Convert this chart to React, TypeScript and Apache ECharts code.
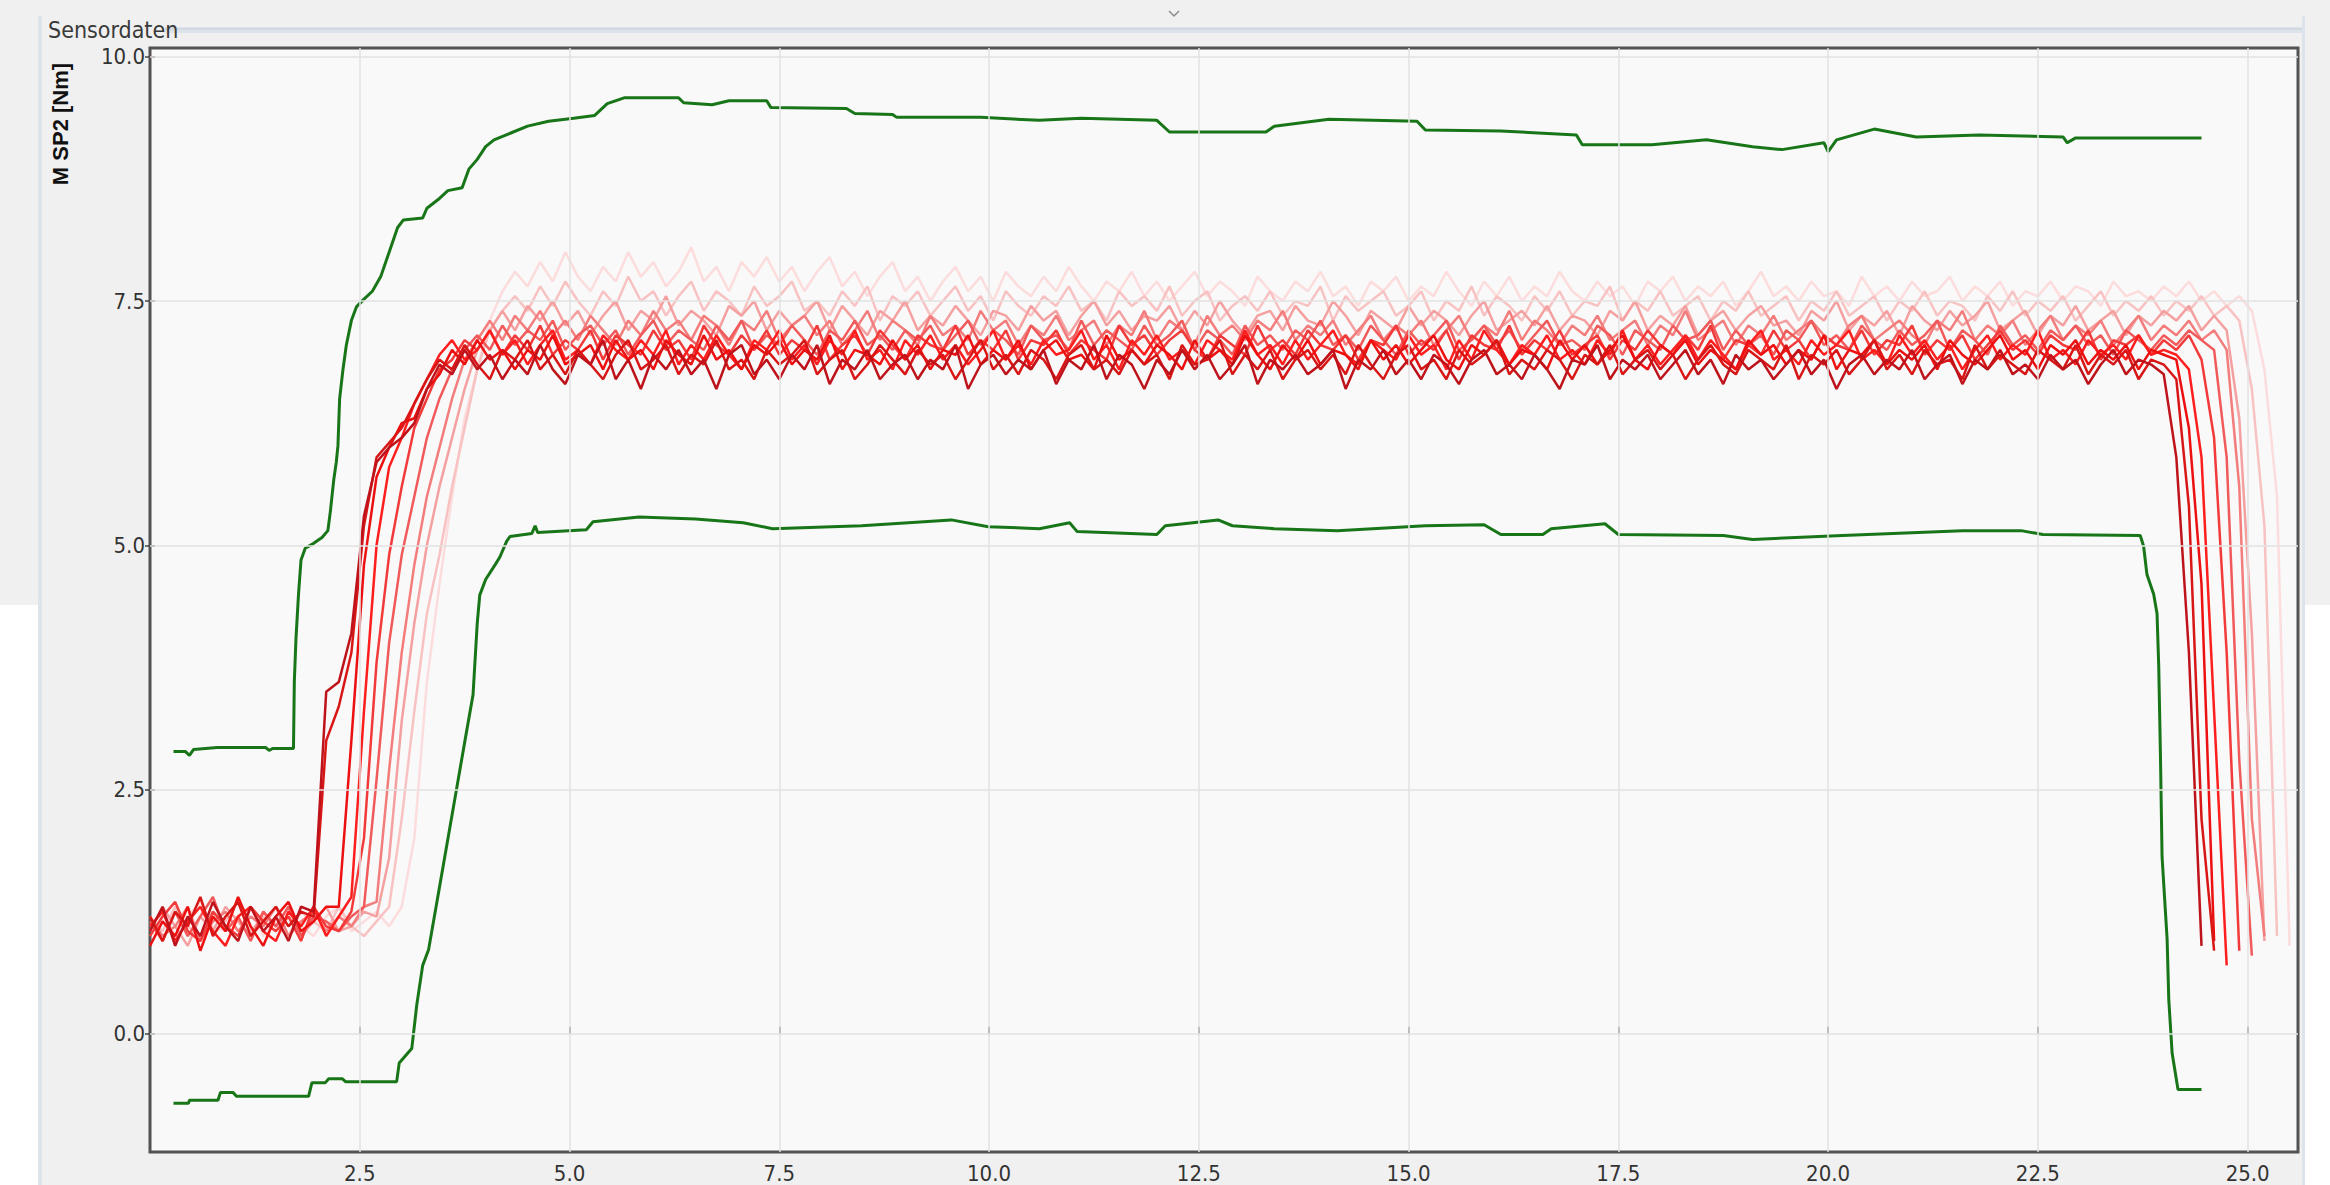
import React, { useEffect, useRef } from 'react';
import * as echarts from 'echarts';

// ---- sample times shared by the red runs (s) ----
const TIME = [
  0, 0.15, 0.3, 0.45, 0.6, 0.75, 0.9, 1.05, 1.2, 1.35,
  1.5, 1.65, 1.8, 1.95, 2.1, 2.25, 2.4, 2.55, 2.7, 2.85,
  3, 3.15, 3.3, 3.45, 3.6, 3.75, 3.9, 4.05, 4.2, 4.35,
  4.5, 4.65, 4.8, 4.95, 5.1, 5.25, 5.4, 5.55, 5.7, 5.85,
  6, 6.15, 6.3, 6.45, 6.6, 6.75, 6.9, 7.05, 7.2, 7.35,
  7.5, 7.65, 7.8, 7.95, 8.1, 8.25, 8.4, 8.55, 8.7, 8.85,
  9, 9.15, 9.3, 9.45, 9.6, 9.75, 9.9, 10.05, 10.2, 10.35,
  10.5, 10.65, 10.8, 10.95, 11.1, 11.25, 11.4, 11.55, 11.7, 11.85,
  12, 12.15, 12.3, 12.45, 12.6, 12.75, 12.9, 13.05, 13.2, 13.35,
  13.5, 13.65, 13.8, 13.95, 14.1, 14.25, 14.4, 14.55, 14.7, 14.85,
  15, 15.15, 15.3, 15.45, 15.6, 15.75, 15.9, 16.05, 16.2, 16.35,
  16.5, 16.65, 16.8, 16.95, 17.1, 17.25, 17.4, 17.55, 17.7, 17.85,
  18, 18.15, 18.3, 18.45, 18.6, 18.75, 18.9, 19.05, 19.2, 19.35,
  19.5, 19.65, 19.8, 19.95, 20.1, 20.25, 20.4, 20.55, 20.7, 20.85,
  21, 21.15, 21.3, 21.45, 21.6, 21.75, 21.9, 22.05, 22.2, 22.35,
  22.5, 22.65, 22.8, 22.95, 23.1, 23.25, 23.4, 23.55, 23.7, 23.85,
  24, 24.15, 24.3, 24.45, 24.6, 24.75, 24.9, 25.05, 25.2, 25.35,
  25.5,
];

// ---- red runs (M SP2 in Nm), darkest first ----
const RED_A = [
  1.05, 1.3, 0.9, 1.2, 1.0, 1.35, 1.1, 0.95, 1.3, 1.05,
  1.2, 0.95, 1.3, 1.25, 3.5, 3.6, 4.1, 5.3, 5.85, 6.0,
  6.1, 6.25, 6.6, 6.85, 6.75, 7.0, 6.8, 6.95, 6.7, 6.9,
  6.75, 7.05, 6.8, 6.65, 6.95, 6.85, 7.1, 6.7, 6.9, 6.6,
  6.95, 6.8, 7.0, 6.75, 6.9, 6.6, 6.95, 7.05, 6.75, 6.9,
  6.7, 6.95, 6.8, 7.05, 6.65, 6.9, 6.8, 7.0, 6.7, 6.85,
  6.95, 6.7, 6.9, 6.8, 7.05, 6.6, 6.85, 6.95, 6.75, 6.9,
  6.8, 7.0, 6.65, 6.9, 6.8, 7.05, 6.7, 6.95, 6.85, 6.6,
  6.9, 6.75, 7.0, 6.8, 6.95, 6.7, 6.85, 7.05, 6.65, 6.9,
  6.8, 6.95, 6.75, 6.85, 7.0, 6.6, 6.9, 6.8, 7.0, 6.75,
  6.9, 6.7, 6.95, 6.85, 6.65, 6.9, 7.0, 6.75, 6.85, 6.7,
  6.95, 6.8, 6.6, 6.9, 6.85, 7.05, 6.7, 6.9, 6.8, 6.95,
  6.7, 6.85, 7.0, 6.75, 6.9, 6.65, 6.95, 6.8, 6.9, 6.7,
  6.85, 7.0, 6.75, 6.9, 6.6, 6.85, 6.95, 6.75, 6.9, 6.8,
  7.0, 6.7, 6.85, 6.95, 6.65, 6.9, 6.8, 7.0, 6.75, 6.85,
  6.7, 6.95, 6.8, 6.9, 6.65, 6.85, 7.0, 6.75, 6.9, 6.85,
  6.75, 5.9, 3.9, 0.9,
];
const RED_B = [
  1.2, 0.95, 1.25, 1.1, 1.4, 1.0, 1.2, 1.35, 1.0, 1.15,
  1.3, 1.1, 1.25, 1.2, 3.0, 3.35, 3.9, 5.2, 5.9, 6.05,
  6.2, 6.45, 6.7, 6.9, 6.8, 7.05, 6.85, 6.7, 7.0, 6.9,
  7.1, 6.8, 6.95, 6.75, 7.0, 6.85, 6.7, 6.95, 7.1, 6.8,
  6.9, 7.05, 6.75, 6.95, 6.85, 7.1, 6.8, 6.9, 6.7, 7.0,
  6.85, 6.95, 7.1, 6.75, 6.9, 7.0, 6.7, 6.85, 7.05, 6.9,
  6.75, 7.0, 6.85, 6.95, 6.7, 6.9, 7.1, 6.8, 6.95, 6.75,
  7.0, 6.9, 6.7, 6.95, 7.05, 6.8, 6.9, 6.75, 7.0, 6.85,
  6.95, 6.7, 7.05, 6.85, 6.9, 7.1, 6.75, 6.95, 6.8, 7.0,
  6.7, 6.9, 7.0, 6.8, 6.95, 6.75, 7.05, 6.85, 6.7, 6.95,
  7.05, 6.8, 6.9, 6.7, 7.0, 6.85, 6.95, 7.1, 6.75, 6.9,
  6.8, 7.0, 6.9, 6.7, 6.95, 6.85, 7.05, 6.75, 6.9, 7.0,
  6.8, 6.95, 6.7, 6.9, 7.05, 6.85, 6.75, 7.0, 6.9, 6.8,
  7.05, 6.7, 6.95, 6.85, 7.0, 6.75, 6.9, 7.1, 6.8, 6.95,
  6.75, 7.0, 6.85, 6.9, 6.7, 7.05, 6.8, 6.95, 6.85, 6.75,
  7.0, 6.9, 6.8, 7.05, 6.75, 6.95, 6.85, 7.0, 6.7, 6.9,
  6.85, 6.7, 5.4, 2.2, 0.85,
];
const RED_C = [
  0.9, 1.15, 1.0, 1.3, 0.85, 1.2, 1.05, 1.4, 1.1, 0.9,
  1.2, 1.35, 1.05, 1.15, 1.3, 1.3, 3.0, 4.8, 5.7, 6.0,
  6.25, 6.3, 6.6, 6.75, 7.0, 6.85, 7.1, 6.9, 7.0, 6.8,
  7.0, 6.9, 7.15, 6.85, 6.95, 7.05, 6.8, 7.1, 6.9, 7.0,
  6.8, 7.1, 6.95, 6.85, 7.15, 6.9, 7.0, 6.8, 7.05, 6.95,
  7.1, 6.85, 7.0, 6.9, 7.15, 6.8, 7.0, 6.95, 6.85, 7.1,
  6.9, 7.05, 6.8, 7.0, 6.95, 7.15, 6.85, 7.0, 6.9, 7.1,
  6.8, 7.0, 7.1, 6.9, 6.95, 6.8, 7.15, 6.9, 7.0, 6.85,
  7.05, 6.95, 6.8, 7.1, 6.9, 7.0, 6.85, 7.15, 6.95, 6.8,
  7.05, 6.9, 7.1, 6.85, 7.0, 6.95, 6.8, 7.1, 6.9, 7.05,
  6.85, 7.0, 7.15, 6.9, 6.8, 7.05, 6.95, 7.1, 6.85, 7.0,
  6.95, 6.8, 7.1, 6.9, 7.05, 6.85, 7.0, 7.15, 6.9, 6.8,
  7.05, 6.95, 7.1, 6.85, 7.0, 6.9, 6.8, 7.1, 6.95, 7.05,
  6.85, 7.0, 6.9, 7.15, 6.8, 7.0, 6.95, 7.1, 6.85, 7.0,
  6.9, 7.05, 6.8, 7.1, 6.95, 6.85, 7.0, 7.15, 6.9, 7.0,
  6.8, 7.05, 6.95, 7.1, 6.85, 7.0, 6.9, 7.05, 6.8, 7.0,
  6.95, 6.9, 6.2, 4.6, 0.95,
];
const RED_D = [
  1.1, 1.25, 0.95, 1.15, 1.3, 1.05, 0.9, 1.2, 1.3, 1.05,
  0.95, 1.25, 1.1, 1.3, 1.0, 1.2, 1.4, 3.3, 5.0, 5.8,
  6.1, 6.45, 6.7, 6.95, 7.1, 6.9, 7.0, 7.2, 6.95, 7.1,
  6.85, 7.05, 7.2, 6.9, 7.0, 6.85, 7.15, 7.0, 6.9, 7.1,
  6.95, 7.2, 6.85, 7.05, 6.9, 7.15, 6.95, 6.8, 7.1, 7.0,
  7.2, 6.9, 7.05, 6.85, 7.1, 6.95, 7.2, 6.9, 7.0, 6.8,
  7.1, 6.95, 7.15, 6.9, 7.05, 6.85, 7.0, 7.2, 6.9, 7.05,
  6.85, 7.1, 6.95, 7.0, 7.2, 6.9, 7.05, 6.8, 7.1, 6.95,
  7.15, 6.9, 7.0, 6.85, 7.1, 7.0, 6.9, 7.2, 6.95, 7.05,
  6.85, 7.1, 6.9, 7.05, 7.2, 6.95, 6.85, 7.1, 7.0, 6.9,
  7.15, 6.95, 7.05, 6.8, 7.1, 6.9, 7.2, 7.0, 6.85, 7.05,
  6.95, 7.15, 6.9, 7.0, 6.85, 7.1, 6.95, 7.2, 6.9, 7.05,
  6.85, 7.0, 7.15, 6.9, 7.1, 6.95, 6.8, 7.05, 7.2, 6.9,
  7.0, 6.85, 7.1, 6.95, 7.05, 7.2, 6.9, 7.0, 6.85, 7.15,
  6.95, 7.1, 6.9, 7.05, 6.8, 7.0, 7.15, 6.9, 7.05, 6.95,
  7.2, 6.9, 7.0, 6.85, 7.1, 6.95, 7.05, 6.9, 7.15, 6.95,
  7.0, 6.95, 6.8, 5.9, 3.3, 0.7,
];
const RED_E = [
  1.0, 1.2, 1.35, 1.05, 0.95, 1.25, 1.1, 1.0, 1.3, 1.15,
  1.05, 1.2, 0.95, 1.3, 1.1, 1.05, 1.25, 2.0, 3.8, 4.9,
  5.6, 6.2, 6.5, 6.8, 6.9, 7.1, 7.0, 7.2, 6.95, 7.15,
  7.0, 7.25, 6.95, 7.1, 7.0, 7.2, 6.9, 7.15, 7.05, 6.95,
  7.2, 7.0, 7.1, 6.9, 7.25, 7.05, 6.95, 7.15, 7.0, 7.2,
  6.95, 7.1, 7.0, 7.25, 6.9, 7.05, 7.15, 6.95, 7.2, 7.05,
  6.9, 7.15, 7.05, 7.0, 7.25, 6.95, 7.1, 7.0, 7.2, 6.9,
  7.1, 7.05, 7.2, 6.95, 7.1, 7.0, 6.9, 7.25, 7.05, 7.15,
  6.95, 7.1, 7.2, 7.0, 6.9, 7.15, 7.05, 6.95, 7.25, 7.0,
  7.1, 6.95, 7.2, 7.05, 7.0, 7.15, 6.9, 7.1, 7.05, 7.25,
  6.95, 7.1, 7.0, 7.2, 6.9, 7.15, 7.05, 7.0, 7.25, 6.95,
  7.1, 7.0, 7.2, 6.95, 7.05, 7.15, 6.9, 7.1, 7.0, 7.2,
  7.05, 6.95, 7.15, 7.0, 7.25, 6.9, 7.1, 7.05, 6.95, 7.2,
  7.0, 7.1, 6.9, 7.15, 7.05, 7.0, 7.2, 6.95, 7.1, 7.05,
  7.25, 6.95, 7.1, 7.0, 7.15, 6.9, 7.05, 7.2, 7.0, 7.1,
  6.95, 7.15, 7.05, 7.0, 7.2, 6.9, 7.1, 7.05, 7.15, 6.95,
  7.1, 7.0, 7.15, 6.9, 6.1, 3.9, 0.85,
];
const RED_F = [
  1.15, 0.95, 1.25, 1.0, 1.2, 1.4, 1.05, 1.2, 0.95, 1.25,
  1.1, 1.3, 1.0, 1.2, 1.15, 1.05, 1.2, 1.3, 2.6, 4.0,
  4.9, 5.5, 6.1, 6.5, 6.8, 7.0, 7.15, 7.0, 7.25, 7.05,
  7.2, 7.1, 7.3, 7.0, 7.15, 7.25, 7.05, 7.2, 6.95, 7.15,
  7.3, 7.05, 7.2, 7.1, 7.0, 7.25, 7.1, 7.3, 7.0, 7.15,
  7.05, 7.25, 7.1, 6.95, 7.2, 7.1, 7.3, 7.05, 7.15, 7.0,
  7.2, 7.1, 7.25, 7.0, 7.15, 7.3, 7.05, 7.2, 7.1, 6.95,
  7.25, 7.1, 7.15, 7.0, 7.3, 7.05, 7.2, 7.1, 7.0, 7.25,
  7.05, 7.15, 7.3, 7.0, 7.2, 7.1, 6.95, 7.25, 7.05, 7.15,
  7.0, 7.2, 7.1, 7.3, 7.05, 7.15, 7.0, 7.25, 7.1, 6.95,
  7.2, 7.05, 7.15, 7.3, 7.0, 7.1, 7.25, 7.05, 7.2, 7.0,
  7.15, 7.3, 7.05, 7.1, 7.0, 7.25, 7.15, 6.95, 7.2, 7.1,
  7.0, 7.25, 7.1, 7.15, 7.3, 7.0, 7.2, 7.05, 7.15, 6.95,
  7.2, 7.1, 7.3, 7.05, 7.15, 7.0, 7.25, 7.1, 7.0, 7.2,
  7.05, 7.15, 7.3, 7.0, 7.2, 7.1, 6.95, 7.25, 7.05, 7.15,
  7.0, 7.2, 7.1, 7.25, 7.05, 7.15, 6.95, 7.2, 7.1, 7.0,
  7.15, 7.05, 7.2, 7.1, 7.0, 5.9, 2.8, 0.8,
];
const RED_G = [
  1.2, 1.0, 1.1, 1.3, 0.95, 1.15, 1.25, 1.05, 1.2, 1.1,
  1.3, 1.0, 1.15, 1.25, 1.05, 1.2, 1.1, 1.3, 1.35, 2.7,
  3.9, 4.8, 5.5, 6.0, 6.5, 6.9, 7.1, 7.3, 7.1, 7.35,
  7.2, 7.4, 7.15, 7.3, 7.1, 7.35, 7.2, 7.05, 7.3, 7.15,
  7.4, 7.2, 7.3, 7.1, 7.35, 7.25, 7.05, 7.3, 7.2, 7.4,
  7.1, 7.25, 7.35, 7.15, 7.3, 7.05, 7.2, 7.4, 7.1, 7.3,
  7.2, 7.05, 7.35, 7.15, 7.25, 7.1, 7.4, 7.2, 7.3, 7.05,
  7.25, 7.15, 7.35, 7.1, 7.2, 7.3, 7.05, 7.25, 7.15, 7.4,
  7.1, 7.3, 7.2, 7.05, 7.35, 7.15, 7.25, 7.1, 7.3, 7.2,
  7.4, 7.1, 7.25, 7.15, 7.3, 7.05, 7.2, 7.35, 7.1, 7.25,
  7.15, 7.3, 7.05, 7.2, 7.35, 7.1, 7.25, 7.15, 7.4, 7.1,
  7.3, 7.2, 7.05, 7.25, 7.15, 7.35, 7.1, 7.2, 7.3, 7.05,
  7.25, 7.15, 7.4, 7.1, 7.2, 7.3, 7.05, 7.25, 7.15, 7.35,
  7.1, 7.2, 7.3, 7.15, 7.05, 7.25, 7.35, 7.1, 7.2, 7.3,
  7.15, 7.05, 7.3, 7.2, 7.4, 7.1, 7.25, 7.15, 7.3, 7.05,
  7.2, 7.35, 7.1, 7.25, 7.15, 7.3, 7.05, 7.2, 7.35, 7.1,
  7.25, 7.15, 7.3, 7.1, 7.2, 7.0, 5.6, 2.2, 1.0,
];
const RED_H = [
  1.05, 1.3, 1.1, 0.9, 1.2, 1.05, 1.3, 1.15, 1.0, 1.25,
  1.1, 1.2, 1.0, 1.15, 1.3, 1.05, 1.1, 1.25, 1.2, 1.8,
  3.2, 4.2, 5.0, 5.6, 6.1, 6.6, 7.0, 7.2, 7.4, 7.2,
  7.45, 7.3, 7.5, 7.25, 7.4, 7.15, 7.35, 7.5, 7.2, 7.4,
  7.3, 7.55, 7.25, 7.4, 7.3, 7.15, 7.45, 7.35, 7.5, 7.2,
  7.4, 7.25, 7.35, 7.5, 7.2, 7.45, 7.3, 7.15, 7.4, 7.3,
  7.5, 7.2, 7.35, 7.25, 7.45, 7.3, 7.15, 7.4, 7.35, 7.2,
  7.45, 7.3, 7.4, 7.15, 7.35, 7.5, 7.25, 7.4, 7.2, 7.35,
  7.3, 7.45, 7.2, 7.4, 7.25, 7.5, 7.3, 7.15, 7.35, 7.4,
  7.2, 7.45, 7.3, 7.25, 7.5, 7.35, 7.15, 7.4, 7.3, 7.2,
  7.45, 7.25, 7.4, 7.3, 7.15, 7.35, 7.5, 7.2, 7.3, 7.4,
  7.25, 7.45, 7.2, 7.35, 7.3, 7.15, 7.4, 7.3, 7.5, 7.2,
  7.35, 7.25, 7.45, 7.15, 7.3, 7.4, 7.2, 7.35, 7.45, 7.25,
  7.3, 7.15, 7.4, 7.3, 7.5, 7.2, 7.35, 7.25, 7.4, 7.15,
  7.45, 7.3, 7.2, 7.4, 7.25, 7.35, 7.5, 7.2, 7.3, 7.4,
  7.15, 7.35, 7.25, 7.45, 7.2, 7.3, 7.4, 7.15, 7.35, 7.25,
  7.4, 7.3, 7.45, 7.2, 7.35, 7.2, 6.3, 4.1, 0.95,
];
const RED_I = [
  1.2, 1.05, 1.3, 1.1, 1.0, 1.25, 1.15, 1.35, 1.05, 1.2,
  1.1, 1.0, 1.25, 1.15, 1.05, 1.3, 1.1, 1.0, 1.15, 1.3,
  2.2, 3.3, 4.3, 4.9, 5.6, 6.2, 6.8, 7.2, 7.4, 7.55,
  7.4, 7.65, 7.45, 7.7, 7.5, 7.35, 7.6, 7.45, 7.75, 7.5,
  7.6, 7.35, 7.55, 7.7, 7.4, 7.6, 7.5, 7.35, 7.65, 7.45,
  7.55, 7.7, 7.4, 7.5, 7.35, 7.6, 7.45, 7.65, 7.3, 7.55,
  7.45, 7.6, 7.35, 7.5, 7.65, 7.4, 7.55, 7.3, 7.6, 7.45,
  7.35, 7.55, 7.45, 7.65, 7.4, 7.5, 7.3, 7.6, 7.45, 7.55,
  7.4, 7.65, 7.35, 7.5, 7.6, 7.3, 7.45, 7.55, 7.4, 7.6,
  7.35, 7.5, 7.45, 7.65, 7.3, 7.55, 7.4, 7.5, 7.6, 7.35,
  7.45, 7.6, 7.3, 7.5, 7.4, 7.65, 7.35, 7.55, 7.45, 7.3,
  7.55, 7.4, 7.6, 7.35, 7.5, 7.45, 7.65, 7.3, 7.5, 7.4,
  7.6, 7.35, 7.45, 7.55, 7.3, 7.5, 7.4, 7.6, 7.35, 7.45,
  7.55, 7.3, 7.5, 7.4, 7.6, 7.35, 7.45, 7.55, 7.3, 7.5,
  7.4, 7.6, 7.35, 7.5, 7.45, 7.3, 7.55, 7.4, 7.6, 7.35,
  7.5, 7.4, 7.55, 7.3, 7.45, 7.6, 7.35, 7.5, 7.4, 7.55,
  7.35, 7.5, 7.4, 7.55, 7.35, 7.45, 7.3, 6.6, 5.2, 1.0,
];
const RED_J = [
  1.1, 1.25, 1.0, 1.2, 1.35, 1.1, 1.05, 1.2, 1.3, 1.0,
  1.15, 1.25, 1.1, 1.0, 1.2, 1.3, 1.05, 1.15, 1.25, 1.1,
  1.3, 2.0, 3.6, 4.6, 5.5, 6.3, 6.8, 7.3, 7.6, 7.8,
  7.65, 7.9, 7.7, 8.0, 7.75, 7.6, 7.85, 7.7, 8.0, 7.75,
  7.9, 7.65, 7.8, 8.05, 7.7, 7.85, 7.6, 7.9, 7.75, 7.95,
  7.7, 7.85, 7.6, 7.8, 7.95, 7.65, 7.8, 7.55, 7.75, 7.9,
  7.6, 7.75, 7.5, 7.7, 7.85, 7.6, 7.75, 7.5, 7.8, 7.65,
  7.55, 7.75, 7.6, 7.85, 7.65, 7.5, 7.7, 7.6, 7.8, 7.55,
  7.7, 7.5, 7.65, 7.8, 7.55, 7.7, 7.6, 7.45, 7.75, 7.6,
  7.5, 7.7, 7.6, 7.8, 7.55, 7.65, 7.45, 7.7, 7.6, 7.75,
  7.5, 7.65, 7.55, 7.8, 7.6, 7.45, 7.7, 7.55, 7.75, 7.5,
  7.65, 7.55, 7.8, 7.6, 7.5, 7.7, 7.55, 7.65, 7.45, 7.7,
  7.6, 7.75, 7.5, 7.65, 7.55, 7.7, 7.45, 7.6, 7.8, 7.55,
  7.65, 7.5, 7.7, 7.55, 7.6, 7.45, 7.75, 7.55, 7.65, 7.5,
  7.7, 7.55, 7.6, 7.75, 7.5, 7.65, 7.55, 7.7, 7.45, 7.6,
  7.55, 7.7, 7.5, 7.65, 7.6, 7.45, 7.7, 7.55, 7.6, 7.5,
  7.65, 7.55, 7.7, 7.5, 7.6, 7.45, 7.55, 7.4, 6.8, 5.5, 0.9,
];

// drawn lightest first so the dark runs lie on top
const RED_RUNS = [RED_J, RED_I, RED_H, RED_G, RED_F, RED_E, RED_D, RED_C, RED_B, RED_A];
const RED_COLORS = ['#fcdcdc', '#f8c2c2', '#f5a0a0', '#f37c7c', '#f15a5a', '#f23a3a', '#ff1e1e', '#ec1010', '#d81616', '#be131b'];

// ---- green tolerance envelope [t, Nm] ----
const GREEN_UPPER = [
  [0.28, 2.89], [0.42, 2.89], [0.47, 2.85], [0.52, 2.91], [0.8, 2.93], [1.38, 2.93], [1.42, 2.9],
  [1.46, 2.92], [1.71, 2.92], [1.72, 3.6], [1.74, 4.05], [1.77, 4.5], [1.8, 4.85], [1.85, 4.97],
  [1.95, 5.02], [2.05, 5.08], [2.12, 5.15], [2.15, 5.35], [2.19, 5.67], [2.22, 5.85], [2.24, 6.02],
  [2.26, 6.5], [2.3, 6.8], [2.34, 7.05], [2.4, 7.3], [2.46, 7.44], [2.55, 7.52], [2.65, 7.6],
  [2.75, 7.75], [2.85, 8.0], [2.95, 8.25], [3.02, 8.33], [3.25, 8.35], [3.3, 8.45], [3.45, 8.55],
  [3.55, 8.63], [3.72, 8.66], [3.8, 8.85], [3.9, 8.95], [4.0, 9.08], [4.1, 9.15], [4.3, 9.22],
  [4.5, 9.29], [4.75, 9.34], [5.05, 9.37], [5.3, 9.4], [5.45, 9.52], [5.65, 9.58], [6.3, 9.58],
  [6.36, 9.53], [6.7, 9.51], [6.9, 9.55], [7.35, 9.55], [7.4, 9.48], [8.3, 9.47], [8.4, 9.42],
  [8.85, 9.41], [8.9, 9.38], [9.9, 9.38], [10.6, 9.35], [11.1, 9.37], [12.0, 9.35], [12.15, 9.23],
  [13.3, 9.23], [13.4, 9.29], [14.05, 9.36], [15.1, 9.34], [15.2, 9.25], [16.1, 9.24], [17.0, 9.2],
  [17.07, 9.1], [17.9, 9.1], [18.55, 9.15], [19.1, 9.08], [19.45, 9.05], [19.95, 9.12], [20.0, 9.03],
  [20.1, 9.15], [20.55, 9.26], [21.05, 9.18], [21.8, 9.2], [22.8, 9.18], [22.85, 9.12], [22.95, 9.17],
  [24.45, 9.17],
];
const GREEN_LOWER = [
  [0.28, -0.71], [0.46, -0.71], [0.47, -0.68], [0.81, -0.68], [0.84, -0.6], [0.99, -0.6],
  [1.03, -0.64], [1.89, -0.64], [1.93, -0.5], [2.09, -0.5], [2.13, -0.46], [2.29, -0.46],
  [2.33, -0.49], [2.94, -0.49], [2.97, -0.3], [3.05, -0.22], [3.12, -0.15], [3.18, 0.3],
  [3.25, 0.7], [3.32, 0.86], [3.45, 1.5], [3.62, 2.34], [3.77, 3.08], [3.85, 3.47], [3.9, 4.2],
  [3.93, 4.49], [4.0, 4.65], [4.12, 4.81], [4.17, 4.88], [4.25, 5.04], [4.29, 5.09], [4.55, 5.12],
  [4.59, 5.2], [4.62, 5.13], [5.2, 5.16], [5.28, 5.24], [5.83, 5.29], [6.5, 5.27], [7.07, 5.23],
  [7.42, 5.17], [8.48, 5.2], [9.55, 5.26], [9.99, 5.19], [10.6, 5.17], [10.96, 5.23], [11.05, 5.14],
  [12.0, 5.11], [12.1, 5.2], [12.73, 5.26], [12.9, 5.2], [13.4, 5.17], [14.15, 5.15], [15.2, 5.2],
  [15.9, 5.21], [16.1, 5.11], [16.6, 5.11], [16.7, 5.17], [17.34, 5.22], [17.5, 5.11], [18.75, 5.1],
  [19.1, 5.06], [20.17, 5.1], [21.6, 5.15], [22.3, 5.15], [22.56, 5.11], [23.72, 5.1], [23.76, 4.99],
  [23.8, 4.7], [23.88, 4.5], [23.92, 4.3], [23.94, 3.77], [23.96, 2.88], [23.98, 1.81], [24.02, 1.25],
  [24.04, 0.97], [24.06, 0.35], [24.1, -0.2], [24.17, -0.57], [24.45, -0.57],
];

// ---- axes ----
const X_TICKS = [2.5, 5, 7.5, 10, 12.5, 15, 17.5, 20, 22.5, 25];
const Y_TICKS = [0, 2.5, 5, 7.5, 10];
const X_MIN = 0;
const X_MAX = 25.6;
const Y_MIN = -1.21;
const Y_MAX = 10.09;

const NARROW = "'Liberation Sans Narrow', 'DejaVu Sans Condensed', 'Liberation Sans', Arial, sans-serif";

export default function App() {
  const ref = useRef<HTMLDivElement>(null);

  useEffect(() => {
    if (!ref.current) return;
    const chart = echarts.init(ref.current, null, { renderer: 'svg' });

    const fmt = (v: number) => Number(v).toFixed(1);
    const tickStyle = { color: '#444444', width: 1.5 };

    const redSeries = RED_RUNS.map((run, i) => ({
      type: 'line',
      name: 'run' + (i + 1),
      data: run.map((v, k) => [TIME[k], v]),
      showSymbol: false,
      symbol: 'none',
      lineStyle: { color: RED_COLORS[i], width: 2.5 },
      itemStyle: { color: RED_COLORS[i] },
      emphasis: { disabled: true },
      z: 3,
    }));

    const option: any = {
      animation: false,
      backgroundColor: '#f0f0f0',
      grid: {
        left: 150,
        top: 48,
        right: 32,
        bottom: 33,
        show: true,
        backgroundColor: '#f9f9f9',
        borderColor: '#525252',
        borderWidth: 3,
        containLabel: false,
        outerBoundsMode: 'none',
      },
      xAxis: [
        {
          type: 'value',
          position: 'bottom',
          min: X_MIN,
          max: X_MAX,
          axisLine: { show: false },
          axisTick: { show: true, inside: true, length: 5, lineStyle: tickStyle, customValues: X_TICKS },
          axisLabel: {
            customValues: X_TICKS,
            formatter: fmt,
            color: '#333333',
            fontSize: 22,
            fontFamily: NARROW,
            margin: 10,
          },
          splitLine: { show: false },
        },
        {
          type: 'value',
          position: 'top',
          min: X_MIN,
          max: X_MAX,
          axisLine: { show: false },
          axisTick: { show: true, inside: false, length: 7, lineStyle: tickStyle, customValues: X_TICKS },
          axisLabel: { show: false },
          splitLine: { show: false },
        },
      ],
      yAxis: [
        {
          type: 'value',
          position: 'left',
          min: Y_MIN,
          max: Y_MAX,
          axisLine: { show: false },
          axisTick: { show: true, inside: true, length: 5, lineStyle: tickStyle, customValues: Y_TICKS },
          axisLabel: {
            customValues: Y_TICKS,
            formatter: fmt,
            color: '#333333',
            fontSize: 22,
            fontFamily: NARROW,
            margin: 5,
          },
          splitLine: { show: false },
        },
        {
          type: 'value',
          position: 'right',
          min: Y_MIN,
          max: Y_MAX,
          axisLine: { show: false },
          axisTick: { show: true, inside: true, length: 5, lineStyle: tickStyle, customValues: Y_TICKS },
          axisLabel: { show: false },
          splitLine: { show: false },
        },
      ],
      series: [
        {
          type: 'line',
          name: 'gridlines',
          data: [],
          silent: true,
          z: 1,
          markLine: {
            silent: true,
            symbol: ['none', 'none'],
            label: { show: false },
            emphasis: { disabled: true },
            lineStyle: { color: '#e2e2e2', width: 1.5, type: 'solid' },
            data: [
              ...X_TICKS.map((v) => ({ xAxis: v })),
              ...Y_TICKS.map((v) => ({ yAxis: v })),
            ],
          },
        },
        ...redSeries,
        {
          type: 'line',
          name: 'upper',
          data: GREEN_UPPER,
          showSymbol: false,
          symbol: 'none',
          lineStyle: { color: '#187618', width: 3 },
          itemStyle: { color: '#187618' },
          emphasis: { disabled: true },
          z: 4,
        },
        {
          type: 'line',
          name: 'lower',
          data: GREEN_LOWER,
          showSymbol: false,
          symbol: 'none',
          lineStyle: { color: '#187618', width: 3 },
          itemStyle: { color: '#187618' },
          emphasis: { disabled: true },
          z: 4,
        },
      ],
      graphic: [
        { type: 'rect', silent: true, shape: { x: 0, y: 605, width: 38, height: 580 }, style: { fill: '#ffffff' } },
        { type: 'rect', silent: true, shape: { x: 2305, y: 605, width: 25, height: 580 }, style: { fill: '#ffffff' } },
        { type: 'rect', silent: true, shape: { x: 38, y: 16, width: 4, height: 1169 }, style: { fill: '#dce3eb' } },
        { type: 'rect', silent: true, shape: { x: 2302, y: 16, width: 3, height: 1169 }, style: { fill: '#dce3eb' } },
        { type: 'rect', silent: true, shape: { x: 165, y: 27, width: 2137, height: 6 }, style: { fill: '#dde3ea' } },
        { type: 'line', silent: true, shape: { x1: 165, y1: 29, x2: 2302, y2: 29 }, style: { stroke: '#c5cdd6', lineWidth: 1 } },
        {
          type: 'text',
          silent: true,
          x: 48,
          y: 30,
          style: { text: 'Sensordaten', font: "23px " + NARROW, fill: '#3a3a3a', align: 'left', verticalAlign: 'middle' },
        },
        {
          type: 'polyline',
          silent: true,
          shape: { points: [[1169, 11], [1174, 16], [1179, 11]] },
          style: { stroke: '#8c8c8c', lineWidth: 1.5, fill: null },
        },
        {
          type: 'text',
          silent: true,
          x: 60,
          y: 124,
          rotation: Math.PI / 2,
          style: {
            text: 'M SP2 [Nm]',
            font: "bold 22px 'Liberation Sans', Arial, sans-serif",
            fill: '#111111',
            align: 'center',
            verticalAlign: 'middle',
          },
        },
      ],
    };

    chart.setOption(option);
    return () => chart.dispose();
  }, []);

  return (
    <div
      ref={ref}
      style={{ position: 'fixed', left: 0, top: 0, width: '2330px', height: '1185px' }}
    />
  );
}
